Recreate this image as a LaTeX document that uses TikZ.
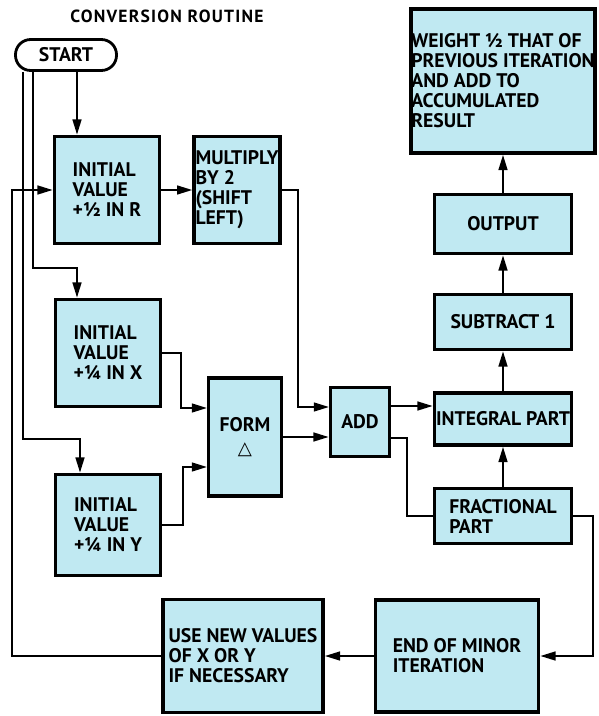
\documentclass[tikz,border=0pt]{standalone}
\usepackage{fontspec}
\setmainfont{PT Sans}
\newfontfamily\symbolfont{DejaVu Sans}
\usetikzlibrary{arrows.meta}
\definecolor{boxfill}{RGB}{192,233,242}

\begin{document}
\begin{tikzpicture}[
    x=0.025cm, y=-0.025cm,
    box/.style={draw, fill=boxfill, line width=2.6pt, align=left, inner sep=1pt,
        font=\fontsize{14}{14.2}\selectfont\bfseries},
    start_node/.style={draw, rounded corners=0.38cm, line width=2pt, minimum width=2.525cm,
        minimum height=0.775cm, font=\fontsize{14}{14}\selectfont\bfseries},
    flow/.style={-{Triangle[length=3.8mm,width=2.2mm]}, line width=1.4pt},
    wire/.style={line width=1.4pt}
]
    \useasboundingbox (0,0) rectangle (598,716);

    \node (title) at (167,16) {\fontsize{12.5}{14}\selectfont\bfseries\addfontfeatures{LetterSpace=7}CONVERSION ROUTINE};
    \node[start_node] (START) at (66,55) {START};

    % left column
    \node[box, minimum width=2.625cm, minimum height=2.675cm] (R) at (107,190) {INITIAL\\VALUE\\+½ IN R};
    \node[box, minimum width=2.125cm, minimum height=2.675cm] (MUL) at (237,190) {MULTIPLY\\BY 2\\(SHIFT\\LEFT)};
    \node[box, minimum width=2.625cm, minimum height=2.675cm] (X) at (108,353) {INITIAL\\VALUE\\+¼ IN X};
    \node[box, minimum width=2.625cm, minimum height=2.525cm] (Y) at (108,525) {INITIAL\\VALUE\\+¼ IN Y};
    \node[box, align=center, minimum width=1.825cm, minimum height=2.95cm] (FORM) at (245,437) {FORM\\[2pt]{\symbolfont\fontsize{13}{13}\selectfont △}};
    \node[box, align=center, minimum width=1.475cm, minimum height=1.725cm] (ADD) at (360,422) {ADD};

    % right column
    \node[box, align=center, minimum width=3.425cm, minimum height=1.3cm] (INT) at (503,419) {INTEGRAL PART};
    \node[box, minimum width=3.425cm, minimum height=1.375cm] (FRAC) at (503,516) {FRACTIONAL\\PART};
    \node[box, align=center, minimum width=3.425cm, minimum height=1.375cm] (SUB) at (503,322) {SUBTRACT 1};
    \node[box, align=center, minimum width=3.425cm, minimum height=1.475cm] (OUT) at (503,224) {OUTPUT};
    \node[box, inner sep=0pt, minimum width=4.6cm, minimum height=3.6cm] (WT) at (503,81) {WEIGHT ½ THAT OF\\PREVIOUS ITERATION\\AND ADD TO\\ACCUMULATED\\RESULT};

    % bottom row
    \node[box, minimum width=4.0cm, minimum height=2.825cm] (USE) at (243,656) {USE NEW VALUES\\OF X OR Y\\IF NECESSARY};
    \node[box, minimum width=4.075cm, minimum height=2.8cm] (END) at (457,656) {END OF MINOR\\ITERATION};

    % ports and bends
    \coordinate (tapR) at (77,72);
    \coordinate (tapX) at (33,72);
    \coordinate (tapY) at (23,72);
    \coordinate (kneeX) at (77,268);
    \coordinate (kneeY) at (80,439);
    \coordinate (loopL) at (12,400);
    \coordinate (loopR) at (593,600);
    \coordinate (formIn1) at (207,408);
    \coordinate (formIn2) at (207,467);
    \coordinate (addIn1) at (329,407);
    \coordinate (addOut1) at (391,406);
    \coordinate (addOut2) at (391,438);

    \draw[flow] (tapR) -- (tapR |- R.north);
    \draw[flow] (tapX) |- (kneeX) -- (kneeX |- X.north);
    \draw[flow] (tapY) |- (kneeY) -- (kneeY |- Y.north);
    \draw[flow] (R) -- (MUL);
    \draw[flow] (MUL.east) -- ++(16,0) |- (addIn1);
    \draw[flow] (X.east) -- ++(19,0) |- (formIn1);
    \draw[flow] (Y.east) -- ++(21,0) |- (formIn2);
    \draw[flow] (FORM.east) -- (FORM.east -| ADD.west);
    \draw[flow] (addOut1) -- (addOut1 -| INT.west);
    \draw[wire] (addOut2) -- ++(16,0) |- (FRAC.west);
    \draw[flow] (FRAC) -- (INT);
    \draw[flow] (INT) -- (SUB);
    \draw[flow] (SUB) -- (OUT);
    \draw[flow] (OUT) -- (WT);
    \draw[flow] (FRAC.east) -| (loopR) |- (END.east);
    \draw[flow] (END) -- (USE);
    \draw[flow] (USE.west) -| (loopL) |- (R.west);
\end{tikzpicture}
\end{document}
